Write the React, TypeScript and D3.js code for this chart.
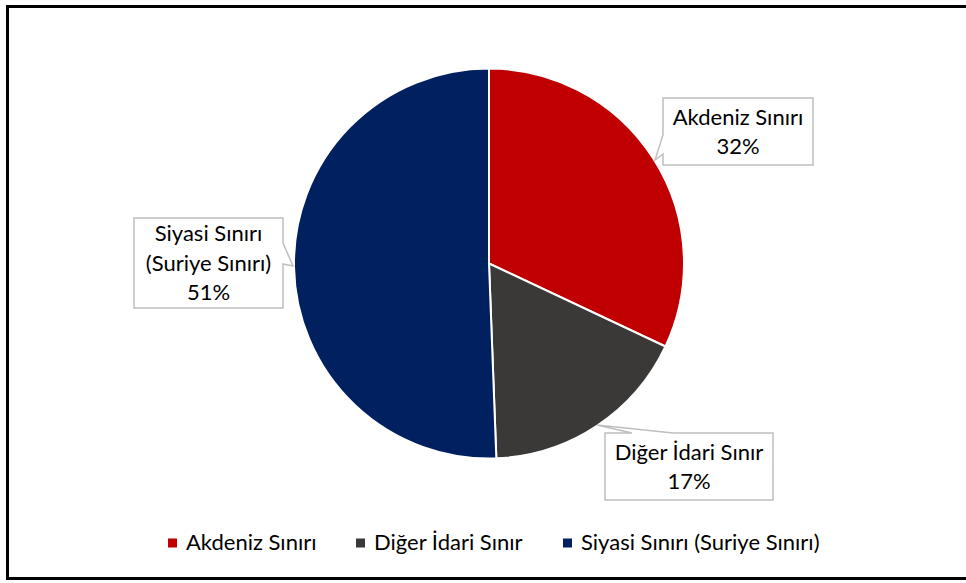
import React from "react";
import * as d3 from "d3";

const categories = ["Akdeniz Sınırı", "Diğer İdari Sınır", "Siyasi Sınırı (Suriye Sınırı)"];
const values = [32.0, 17.4, 50.6];
const labelNames = [["Akdeniz Sınırı"], ["Diğer İdari Sınır"], ["Siyasi Sınırı", "(Suriye Sınırı)"]];
const colors = ["#C00000", "#3B3838", "#002060"];

const W = 966;
const H = 583;
const FONT = "Lato, 'Open Sans', sans-serif";
const FS = 22;

// callout boxes: x, y, w, h, wedge path spec
const callouts = [
  { x: 663, y: 98, w: 150, h: 67, side: "left", a: 135, b: 154, tip: [655, 160] },
  { x: 605, y: 433, w: 168, h: 67, side: "top", a: 632, b: 673, tip: [597, 425] },
  { x: 134, y: 218, w: 149, h: 90, side: "right", a: 243, b: 264, tip: [293, 266] },
];

function calloutPath(c: any) {
  const { x, y, w, h, side, a, b, tip } = c;
  const r = x + w, bt = y + h;
  if (side === "left") {
    return `M${x},${y} H${r} V${bt} H${x} V${b} L${tip[0]},${tip[1]} L${x},${a} Z`;
  }
  if (side === "right") {
    return `M${x},${y} H${r} V${a} L${tip[0]},${tip[1]} L${r},${b} V${bt} H${x} Z`;
  }
  return `M${x},${y} H${a} L${tip[0]},${tip[1]} L${b},${y} H${r} V${bt} H${x} Z`;
}

export default function App() {
  const cx = 489, cy = 263.5, R = 195;
  const total = d3.sum(values);
  const pie = d3.pie<number>().sort(null).value((d) => d)(values);
  const arc = d3.arc<d3.PieArcDatum<number>>().innerRadius(0).outerRadius(R);
  const lineH = 29.5;

  const legendX = [168, 356, 563];

  return (
    <svg width={W} height={H} style={{ position: "absolute", left: 0, top: 0, background: "#fff" }} fontFamily={FONT}>
      <rect x={7.5} y={6.5} width={970} height={572} fill="#fff" stroke="#000" strokeWidth={3} />
      <g transform={`translate(${cx},${cy})`}>
        {pie.map((p, i) => (
          <path key={i} d={arc(p) || ""} fill={colors[i]} stroke="#fff" strokeWidth={2} strokeLinejoin="round" />
        ))}
      </g>
      {callouts.map((c, i) => {
        const lines = [...labelNames[i], Math.round((values[i] / total) * 100) + "%"];
        const midY = c.y + c.h / 2;
        const startY = midY - ((lines.length - 1) * lineH) / 2;
        return (
          <g key={i}>
            <path d={calloutPath(c)} fill="#fff" stroke="#BFBFBF" strokeWidth={1.5} />
            {lines.map((t, j) => (
              <text key={j} x={c.x + c.w / 2} y={startY + j * lineH} dy="0.36em" textAnchor="middle" fontSize={FS} fill="#000">
                {t}
              </text>
            ))}
          </g>
        );
      })}
      {categories.map((c, i) => (
        <g key={i}>
          <rect x={legendX[i]} y={538.5} width={9} height={9} fill={colors[i]} />
          <text x={legendX[i] + 18} y={550} fontSize={FS} fill="#000">
            {c}
          </text>
        </g>
      ))}
    </svg>
  );
}
